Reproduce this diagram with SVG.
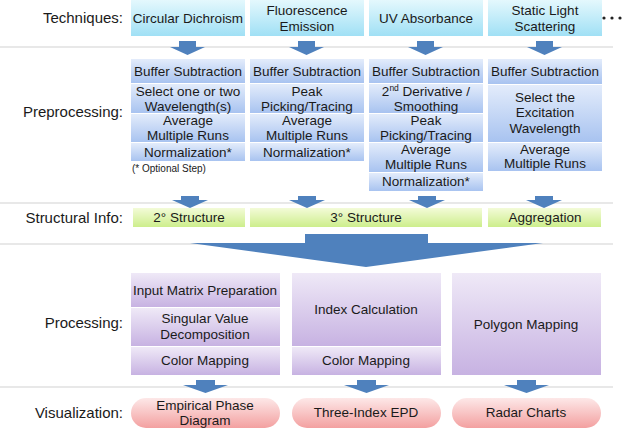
<svg xmlns="http://www.w3.org/2000/svg" width="624" height="430" viewBox="0 0 624 430">
<defs>
<linearGradient id="gCyan" x1="0" y1="0" x2="0" y2="1"><stop offset="0" stop-color="#e4f8fd"/><stop offset="1" stop-color="#a0e0f5"/></linearGradient>
<linearGradient id="gBlue" x1="0" y1="0" x2="0" y2="1"><stop offset="0" stop-color="#e3ecfb"/><stop offset="1" stop-color="#a8c3f0"/></linearGradient>
<linearGradient id="gGreen" x1="0" y1="0" x2="0" y2="1"><stop offset="0" stop-color="#f3fbd8"/><stop offset="1" stop-color="#cdee8c"/></linearGradient>
<linearGradient id="gPurple" x1="0" y1="0" x2="0" y2="1"><stop offset="0" stop-color="#efe9f7"/><stop offset="1" stop-color="#c7b2e2"/></linearGradient>
<linearGradient id="gPink" x1="0" y1="0" x2="0" y2="1"><stop offset="0" stop-color="#fde8e8"/><stop offset="1" stop-color="#f3a0a0"/></linearGradient>
</defs>
<style>
.lbl{font-family:"Liberation Sans",Arial,sans-serif;font-size:15px;fill:#1a1a1a;text-anchor:end}
.t{font-family:"Liberation Sans",Arial,sans-serif;font-size:13.5px;fill:#1a1a1a;text-anchor:middle}
.note{font-family:"Liberation Sans",Arial,sans-serif;font-size:10px;fill:#1a1a1a}
.sep{stroke:#e8e8e8;stroke-width:2}
.cy{fill:url(#gCyan)}
.bl{fill:url(#gBlue)}
.gr{fill:url(#gGreen)}
.pu{fill:url(#gPurple)}
.pk{fill:url(#gPink)}
.arr{fill:#4f81bd}
</style>
<rect width="624" height="430" fill="#ffffff"/>
<g id="separators">
<line class="sep" x1="0" y1="47" x2="613" y2="47"/>
<line class="sep" x1="0" y1="203" x2="613" y2="203"/>
<line class="sep" x1="0" y1="244" x2="613" y2="244"/>
<line class="sep" x1="0" y1="387" x2="613" y2="387"/>
</g>
<g id="row-labels">
<text class="lbl" x="123" y="23">Techniques:</text>
<text class="lbl" x="123" y="117">Preprocessing:</text>
<text class="lbl" x="123" y="223">Structural Info:</text>
<text class="lbl" x="123" y="328">Processing:</text>
<text class="lbl" x="123" y="418">Visualization:</text>
</g>
<g id="tech-cd"><rect class="cy" x="131" y="0" width="114" height="36"/><text class="t" x="188" y="23">Circular Dichroism</text></g>
<g id="tech-fe"><rect class="cy" x="250" y="0" width="114" height="36"/><text class="t" x="307" y="15">Fluorescence</text><text class="t" x="307" y="31">Emission</text></g>
<g id="tech-uv"><rect class="cy" x="369" y="0" width="114" height="36"/><text class="t" x="426" y="23">UV Absorbance</text></g>
<g id="tech-sls"><rect class="cy" x="488" y="0" width="114" height="36"/><text class="t" x="545" y="15">Static Light</text><text class="t" x="545" y="31">Scattering</text></g>
<g id="more"><circle cx="604" cy="18" r="1.6" fill="#222"/><circle cx="612" cy="18" r="1.6" fill="#222"/><circle cx="620" cy="18" r="1.6" fill="#222"/></g>

<g id="pre-cd">
<rect class="bl" x="131" y="59" width="114" height="24"/>
<rect class="bl" x="131" y="84" width="114" height="29"/>
<rect class="bl" x="131" y="114" width="114" height="28"/>
<rect class="bl" x="131" y="143" width="114" height="18"/>
<text class="t" x="188" y="76">Buffer Subtraction</text>
<text class="t" x="188" y="96">Select one or two</text>
<text class="t" x="188" y="111">Wavelength(s)</text>
<text class="t" x="188" y="125">Average</text>
<text class="t" x="188" y="140">Multiple Runs</text>
<text class="t" x="188" y="157">Normalization*</text>
<text class="note" x="132" y="172">(* Optional Step)</text>
</g>
<g id="pre-fe">
<rect class="bl" x="250" y="59" width="114" height="24"/>
<rect class="bl" x="250" y="84" width="114" height="29"/>
<rect class="bl" x="250" y="114" width="114" height="28"/>
<rect class="bl" x="250" y="143" width="114" height="18"/>
<text class="t" x="307" y="76">Buffer Subtraction</text>
<text class="t" x="307" y="96">Peak</text>
<text class="t" x="307" y="111">Picking/Tracing</text>
<text class="t" x="307" y="125">Average</text>
<text class="t" x="307" y="140">Multiple Runs</text>
<text class="t" x="307" y="157">Normalization*</text>
</g>
<g id="pre-uv">
<rect class="bl" x="369" y="59" width="114" height="24"/>
<rect class="bl" x="369" y="84" width="114" height="29"/>
<rect class="bl" x="369" y="114" width="114" height="28"/>
<rect class="bl" x="369" y="143" width="114" height="29"/>
<rect class="bl" x="369" y="173" width="114" height="18"/>
<text class="t" x="426" y="76">Buffer Subtraction</text>
<text class="t" x="426" y="96">2<tspan font-size="8.5" dy="-5">nd</tspan><tspan dy="5"> Derivative /</tspan></text>
<text class="t" x="426" y="111">Smoothing</text>
<text class="t" x="426" y="125">Peak</text>
<text class="t" x="426" y="140">Picking/Tracing</text>
<text class="t" x="426" y="154">Average</text>
<text class="t" x="426" y="169">Multiple Runs</text>
<text class="t" x="426" y="186">Normalization*</text>
</g>
<g id="pre-sls">
<rect class="bl" x="488" y="59" width="114" height="25"/>
<rect class="bl" x="488" y="85" width="114" height="57"/>
<rect class="bl" x="488" y="143" width="114" height="28"/>
<text class="t" x="545" y="76">Buffer Subtraction</text>
<text class="t" x="545" y="102">Select the</text>
<text class="t" x="545" y="117">Excitation</text>
<text class="t" x="545" y="133">Wavelength</text>
<text class="t" x="545" y="154">Average</text>
<text class="t" x="545" y="168">Multiple Runs</text>
</g>

<g id="struct-2"><rect class="gr" x="133" y="208" width="112" height="19"/><text class="t" x="189" y="222">2° Structure</text></g>
<g id="struct-3"><rect class="gr" x="250" y="208" width="232" height="19"/><text class="t" x="366" y="222">3° Structure</text></g>
<g id="struct-agg"><rect class="gr" x="488" y="208" width="113" height="19"/><text class="t" x="545" y="222">Aggregation</text></g>

<g id="proc-epd">
<rect class="pu" x="131" y="273" width="149" height="34"/>
<rect class="pu" x="131" y="308" width="149" height="38"/>
<rect class="pu" x="131" y="347" width="149" height="28"/>
<text class="t" x="205" y="295">Input Matrix Preparation</text>
<text class="t" x="205" y="323">Singular Value</text>
<text class="t" x="205" y="339">Decomposition</text>
<text class="t" x="205" y="365">Color Mapping</text>
</g>
<g id="proc-idx">
<rect class="pu" x="292" y="273" width="149" height="73"/>
<rect class="pu" x="292" y="347" width="149" height="28"/>
<text class="t" x="366" y="314">Index Calculation</text>
<text class="t" x="366" y="365">Color Mapping</text>
</g>
<g id="proc-poly">
<rect class="pu" x="452" y="273" width="149" height="102"/>
<text class="t" x="526" y="329">Polygon Mapping</text>
</g>

<g id="vis-epd"><rect class="pk" x="131" y="398" width="149" height="30" rx="15"/><text class="t" x="205" y="410">Empirical Phase</text><text class="t" x="205" y="425">Diagram</text></g>
<g id="vis-3i"><rect class="pk" x="292" y="398" width="149" height="30" rx="15"/><text class="t" x="366" y="417">Three-Index EPD</text></g>
<g id="vis-radar"><rect class="pk" x="452" y="398" width="149" height="30" rx="15"/><text class="t" x="526" y="417">Radar Charts</text></g>

<g id="connectors">
<path class="arr" d="M179,41 h17 v6 h9 l-17.5,8 l-17.5,-8 h9 z"/>
<path class="arr" d="M298,41 h17 v6 h9 l-17.5,8 l-17.5,-8 h9 z"/>
<path class="arr" d="M417,41 h17 v6 h9 l-17.5,8 l-17.5,-8 h9 z"/>
<path class="arr" d="M536,41 h17 v6 h9 l-17.5,8 l-17.5,-8 h9 z"/>
<path class="arr" d="M181,196 h18 v4 h9 l-18,8 l-18,-8 h9 z"/>
<path class="arr" d="M298,196 h18 v4 h9 l-18,8 l-18,-8 h9 z"/>
<path class="arr" d="M418,196 h18 v4 h9 l-18,8 l-18,-8 h9 z"/>
<path class="arr" d="M535,196 h18 v4 h9 l-18,8 l-18,-8 h9 z"/>
<path class="arr" d="M305,234 H428 V243 H543 L366,267 L190,243 H305 z"/>
<path class="arr" d="M196,380 h19 v5 h13 l-22.5,8 l-22.5,-8 h13 z"/>
<path class="arr" d="M357,380 h19 v5 h13 l-22.5,8 l-22.5,-8 h13 z"/>
<path class="arr" d="M517,380 h19 v5 h13 l-22.5,8 l-22.5,-8 h13 z"/>
</g>
</svg>
